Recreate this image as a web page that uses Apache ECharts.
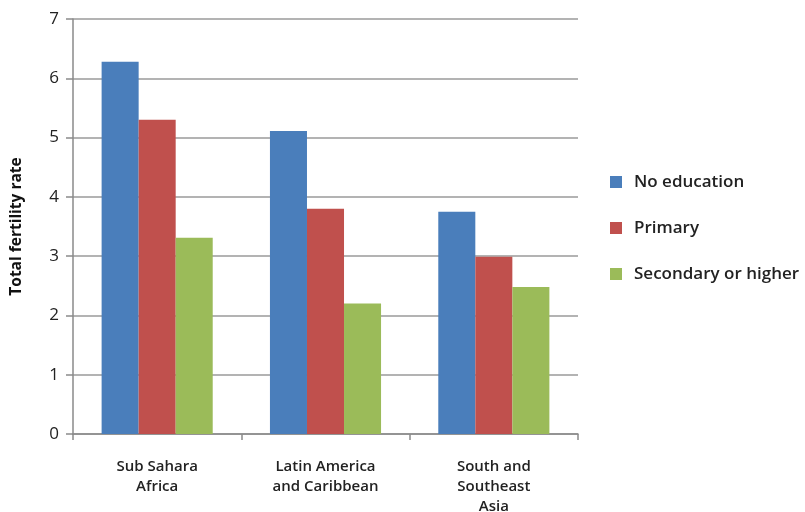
<!DOCTYPE html>
<html>
<head>
<meta charset="utf-8">
<script src="https://cdn.jsdelivr.net/npm/echarts@6/dist/echarts.min.js"></script>
<style>
  html, body { margin: 0; padding: 0; background: #fff; }
  #chart { width: 805px; height: 512px; }
</style>
</head>
<body>
<div id="chart"></div>
<script>
// Total fertility rate by mother's education, by region
const regions = ['Sub Sahara\nAfrica', 'Latin America\nand Caribbean', 'South and\nSoutheast\nAsia'];
const noEducation = [6.28, 5.11, 3.75];
const primary = [5.3, 3.8, 2.99];
const secondaryOrHigher = [3.31, 2.2, 2.48];
const yTicks = [0, 1, 2, 3, 4, 5, 6, 7];

const font = '"Open Sans", "Liberation Sans", sans-serif';
const chart = echarts.init(document.getElementById('chart'));

const barSeries = (name, data, color) => ({
  name, type: 'bar', data,
  barGap: '0%', barCategoryGap: '34%',
  itemStyle: { color },
  emphasis: { disabled: true }
});

chart.setOption({
  animation: false,
  textStyle: { fontFamily: font },
  grid: { left: 73, top: 19, right: 227, bottom: 78, containLabel: false, outerBoundsMode: 'none' },
  legend: {
    orient: 'vertical', left: 605, top: 165,
    itemWidth: 12, itemHeight: 12, itemGap: 22,
    icon: 'rect',
    textStyle: { fontSize: 17, fontWeight: 600, color: '#222', fontFamily: font, padding: [0, 0, 0, 7], lineHeight: 24 },
    data: ['No education', 'Primary', 'Secondary or higher']
  },
  xAxis: {
    type: 'category', data: regions,
    axisLine: { lineStyle: { color: '#8a8a8a', width: 1.5 } },
    axisTick: { show: true, length: 6, lineStyle: { color: '#8a8a8a', width: 1.5 } },
    axisLabel: { fontSize: 15, fontWeight: 600, color: '#222', lineHeight: 20, margin: 23, fontFamily: font }
  },
  yAxis: {
    type: 'value', min: yTicks[0], max: yTicks[yTicks.length - 1], interval: 1,
    name: 'Total fertility rate', nameLocation: 'middle', nameGap: 48,
    nameTextStyle: { fontSize: 15.5, fontWeight: 'bold', color: '#111', fontFamily: font },
    axisLine: { show: true, lineStyle: { color: '#8a8a8a', width: 1.5 } },
    axisTick: { show: true, length: 7, lineStyle: { color: '#8a8a8a', width: 1.5 } },
    axisLabel: { fontSize: 17, color: '#222', margin: 14, fontFamily: font },
    splitLine: { lineStyle: { color: '#9a9a9a', width: 1.5 } }
  },
  series: [
    barSeries('No education', noEducation, '#4a7ebb'),
    barSeries('Primary', primary, '#c0504d'),
    barSeries('Secondary or higher', secondaryOrHigher, '#9bbb59')
  ]
});
</script>
</body>
</html>
